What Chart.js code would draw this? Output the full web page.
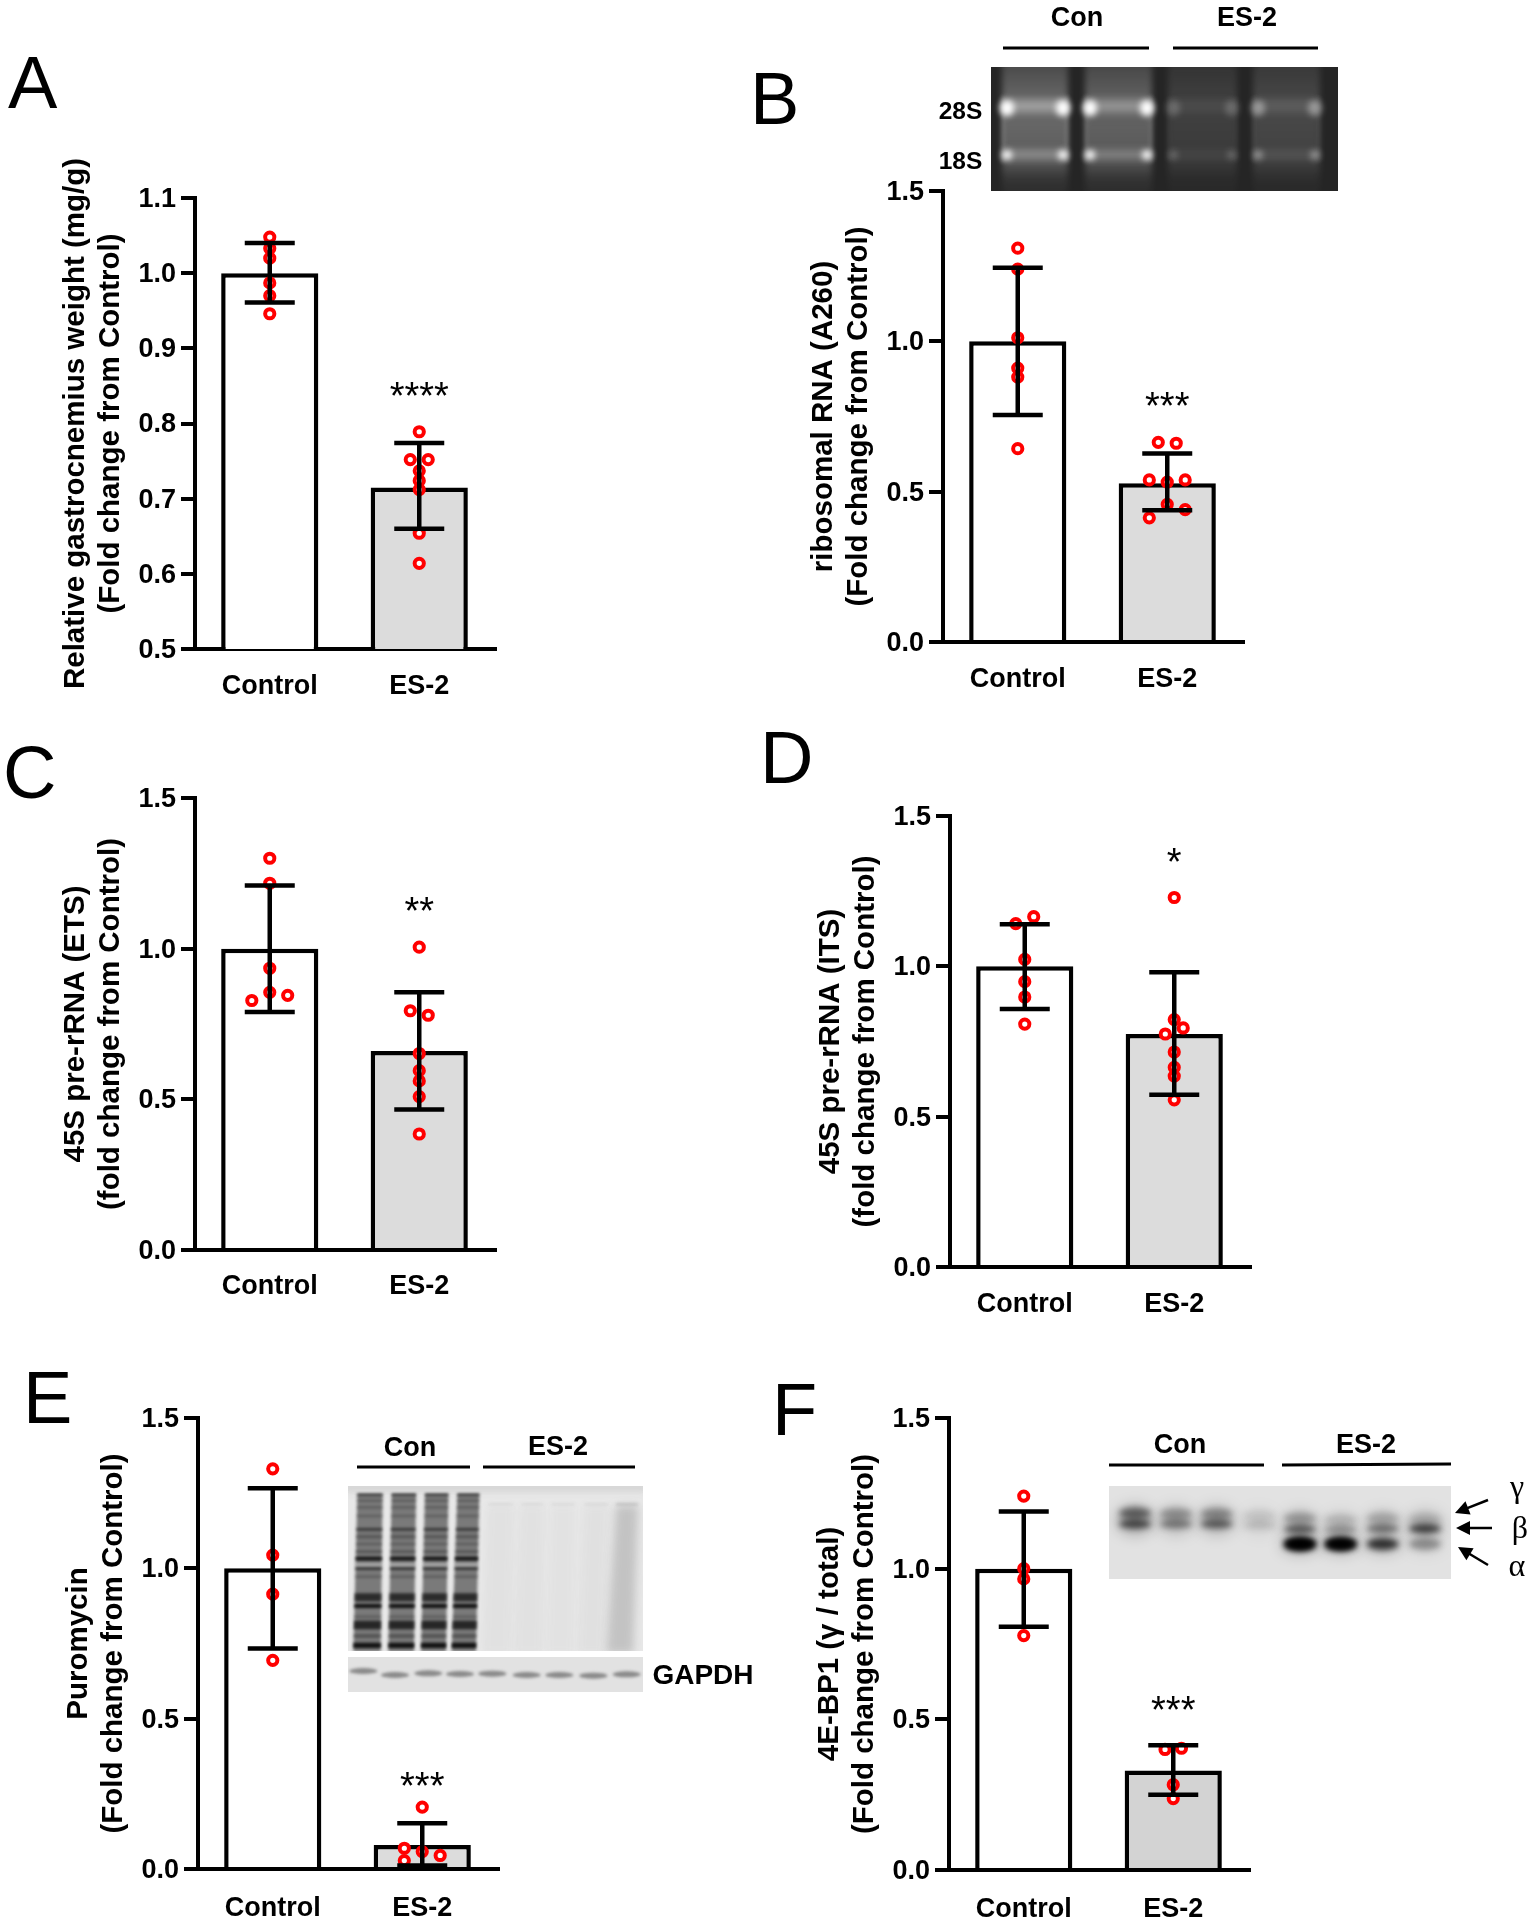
<!DOCTYPE html>
<html><head><meta charset="utf-8">
<script src="https://cdn.jsdelivr.net/npm/chart.js@4"></script>
<style>
html,body{margin:0;padding:0;background:#fff;}
#page{position:relative;width:1532px;height:1920px;overflow:hidden;background:#fff;font-family:"Liberation Sans",Arial,sans-serif;color:#000;}
canvas{position:absolute;}
.t{position:absolute;transform:translate(-50%,-50%);white-space:nowrap;font-weight:bold;font-size:27px;line-height:1;}
.letter{position:absolute;font-weight:normal;font-size:74px;line-height:1;}
.g{position:absolute;transform:translate(-50%,-50%);font-family:"Liberation Serif",serif;font-size:32px;line-height:1;}
</style></head><body><div id="page">
<canvas id="deco" width="1532" height="1920" style="left:0;top:0"></canvas>
</div>
<script>
const categories = ['Control', 'ES-2'];

const aTicks = ['0.5','0.6','0.7','0.8','0.9','1.0','1.1'];
const aMeans = [1.0, 0.715];
const aLow = [0.961, 0.660];
const aHigh = [1.040, 0.774];
const aControl = [1.048, 1.033, 1.020, 0.987, 0.970, 0.946];
const aControlJit = [0, 0, 0, 0, 0, 0];
const aES = [0.789, 0.752, 0.752, 0.737, 0.724, 0.712, 0.654, 0.614];
const aESJit = [0, -0.06, 0.06, 0, 0, 0, 0, 0];
const aStar = ['', '****'];
const aStarAt = [0, 0.843];
const aTitle = ['Relative gastrocnemius weight (mg/g)', '(Fold change from Control)'];

const bTicks = ['0.0','0.5','1.0','1.5'];
const bMeans = [1.0, 0.528];
const bLow = [0.755, 0.438];
const bHigh = [1.245, 0.627];
const bControl = [1.31, 1.24, 1.012, 0.911, 0.881, 0.643];
const bControlJit = [0, 0, 0, 0, 0, 0];
const bES = [0.664, 0.661, 0.539, 0.539, 0.532, 0.458, 0.44, 0.413];
const bESJit = [-0.06, 0.06, -0.12, 0.12, 0, 0, 0.12, -0.12];
const bStar = ['', '***'];
const bStarAt = [0, 0.80];
const bTitle = ['ribosomal RNA (A260)', '(Fold change from Control)'];

const cTicks = ['0.0','0.5','1.0','1.5'];
const cMeans = [1.0, 0.66];
const cLow = [0.79, 0.466];
const cHigh = [1.21, 0.855];
const cControl = [1.30, 1.217, 0.935, 0.855, 0.845, 0.828];
const cControlJit = [0, 0, 0, 0, 0.12, -0.12];
const cES = [1.005, 0.794, 0.779, 0.652, 0.595, 0.561, 0.509, 0.385];
const cESJit = [0, -0.06, 0.06, 0, 0, 0, 0, 0];
const cStar = ['', '**'];
const cStarAt = [0, 1.14];
const cTitle = ['45S pre-rRNA (ETS)', '(fold change from Control)'];

const dTicks = ['0.0','0.5','1.0','1.5'];
const dMeans = [1.0, 0.775];
const dLow = [0.858, 0.573];
const dHigh = [1.14, 0.98];
const dControl = [1.165, 1.142, 1.023, 0.949, 0.898, 0.808];
const dControlJit = [0.06, -0.06, 0, 0, 0, 0];
const dES = [1.229, 0.823, 0.795, 0.775, 0.715, 0.664, 0.635, 0.556];
const dESJit = [0, 0, 0.06, -0.06, 0, 0, 0, 0];
const dStar = ['', '*'];
const dStarAt = [0, 1.365];
const dTitle = ['45S pre-rRNA (ITS)', '(fold change from Control)'];

const eTicks = ['0.0','0.5','1.0','1.5'];
const eMeans = [1.0, 0.08];
const eLow = [0.733, 0.012];
const eHigh = [1.266, 0.152];
const eControl = [1.331, 1.044, 0.914, 0.694];
const eControlJit = [0, 0, 0, 0];
const eES = [0.206, 0.069, 0.058, 0.045, 0.028];
const eESJit = [0, -0.12, 0, 0.12, -0.12];
const eStar = ['', '***'];
const eStarAt = [0, 0.294];
const eTitle = ['Puromycin', '(Fold change from Control)'];

const fTicks = ['0.0','0.5','1.0','1.5'];
const fMeans = [1.0, 0.33];
const fLow = [0.807, 0.25];
const fHigh = [1.19, 0.414];
const fControl = [1.241, 1.0, 0.966, 0.778];
const fControlJit = [0, 0, 0, 0];
const fES = [0.404, 0.40, 0.283, 0.237];
const fESJit = [0.055, -0.055, 0, 0];
const fStar = ['', '***'];
const fStarAt = [0, 0.549];
const fTitle = ['4E-BP1 (\u03b3 / total)', '(Fold change from Control)'];

const FONT = '"Liberation Sans", Arial, sans-serif';
const page = document.getElementById('page');
const AXIS_W = 4, MARK_W = 4.5, STUB = 3;

const errPlugin = {
  id: 'errs',
  beforeDraw(chart) {
    const y = chart.scales.y;
    y.getLabelItems(chart.chartArea).forEach(it => { if (!it.$moved) { it.options.translation[1] += 1.5; it.$moved = true; } });
  },
  afterDatasetsDraw(chart, _a, o) {
    const {ctx, scales: {x, y}} = chart;
    ctx.save();
    ctx.strokeStyle = '#000';
    ctx.lineCap = 'butt';
    ctx.lineWidth = AXIS_W;
    ctx.beginPath();
    ctx.moveTo(x.right - 1, y.bottom); ctx.lineTo(x.right + STUB, y.bottom);
    ctx.stroke();
    ctx.lineWidth = MARK_W;
    o.low.forEach((lo, i) => {
      const px = x.getPixelForValue(i), a = y.getPixelForValue(lo), b = y.getPixelForValue(o.high[i]);
      ctx.beginPath();
      ctx.moveTo(px, a); ctx.lineTo(px, b);
      ctx.moveTo(px - 25, a); ctx.lineTo(px + 25, a);
      ctx.moveTo(px - 25, b); ctx.lineTo(px + 25, b);
      ctx.stroke();
    });
    ctx.fillStyle = '#000';
    ctx.font = '38px ' + FONT;
    ctx.textAlign = 'center';
    ctx.textBaseline = 'alphabetic';
    o.star.forEach((s, i) => {
      if (s) ctx.fillText(s, x.getPixelForValue(i), y.getPixelForValue(o.starAt[i]) + 18);
    });
    ctx.restore();
  }
};

function panel(g, d) {
  const LEFT = 180, TOP = 90, BOTTOM = 70, RIGHT = 6;
  const cv = document.createElement('canvas');
  const w = LEFT + (g.right - g.axis) + RIGHT, h = TOP + (g.bottom - g.top) + BOTTOM;
  cv.width = w; cv.height = h;
  cv.style.left = (g.axis - LEFT) + 'px';
  cv.style.top = (g.top - TOP) + 'px';
  page.appendChild(cv);
  const pts = (ys, js, c) => ys.map((v, i) => ({x: c + js[i], y: v}));
  const ring = {
    pointStyle: 'circle', pointRadius: 4.6, pointBorderWidth: 4,
    pointBorderColor: '#ff0000', pointBackgroundColor: '#ffffff',
    showLine: false, xAxisID: 'xp', yAxisID: 'y', order: 1, clip: false
  };
  new Chart(cv, {
    type: 'bar',
    data: {
      labels: categories,
      datasets: [
        {type: 'bar', data: d.means, backgroundColor: ['#ffffff', g.grey], borderColor: '#000',
         borderWidth: MARK_W, borderSkipped: 'bottom', barPercentage: 0.65, categoryPercentage: 1, grouped: false,
         xAxisID: 'x', yAxisID: 'y', order: 2},
        Object.assign({type: 'scatter', data: pts(d.control, d.controlJit, 0)}, ring),
        Object.assign({type: 'scatter', data: pts(d.es, d.esJit, 1)}, ring)
      ]
    },
    plugins: [errPlugin],
    options: {
      responsive: false, animation: false, devicePixelRatio: 1,
      layout: {autoPadding: false, padding: {left: 0, right: RIGHT, top: TOP, bottom: 0}},
      plugins: {legend: {display: false}, tooltip: {enabled: false},
        errs: {low: d.low, high: d.high, star: d.star, starAt: d.starAt}},
      scales: {
        x: {
          type: 'category', offset: true,
          border: {display: true, color: '#000', width: AXIS_W},
          grid: {display: false},
          ticks: {color: '#000', padding: g.labelPad, maxRotation: 0, font: {family: FONT, weight: 'bold', size: 27}},
          afterFit(s) { s.height = BOTTOM; }
        },
        xp: {type: 'linear', display: false, offset: false, min: -0.5, max: 1.5},
        y: {
          type: 'linear', min: +d.ticks[0], max: +d.ticks[d.ticks.length - 1],
          border: {display: true, color: '#000', width: AXIS_W},
          grid: {display: true, drawOnChartArea: false, drawTicks: true, tickLength: 14, color: '#000', lineWidth: AXIS_W},
          ticks: {color: '#000', padding: 5, autoSkip: false,
            callback: v => (+v).toFixed(1), font: {family: FONT, weight: 'bold', size: 27}},
          afterBuildTicks(s) { s.ticks = d.ticks.map(v => ({value: +v})); },
          title: {display: true, text: d.title, color: '#000', padding: {top: 43, bottom: 0},
            font: {family: FONT, weight: 'bold', size: 29.5, lineHeight: 1.19}},
          afterFit(s) { s.width = LEFT; }
        }
      }
    }
  });
}

panel({axis:195,right:494,top:198,bottom:649,grey:'#dcdcdc',labelPad:13},
  {ticks:aTicks,means:aMeans,low:aLow,high:aHigh,control:aControl,controlJit:aControlJit,es:aES,esJit:aESJit,star:aStar,starAt:aStarAt,title:aTitle});
panel({axis:943,right:1242,top:191,bottom:642,grey:'#dcdcdc',labelPad:13},
  {ticks:bTicks,means:bMeans,low:bLow,high:bHigh,control:bControl,controlJit:bControlJit,es:bES,esJit:bESJit,star:bStar,starAt:bStarAt,title:bTitle});
panel({axis:195,right:494,top:798,bottom:1250,grey:'#dcdcdc',labelPad:12},
  {ticks:cTicks,means:cMeans,low:cLow,high:cHigh,control:cControl,controlJit:cControlJit,es:cES,esJit:cESJit,star:cStar,starAt:cStarAt,title:cTitle});
panel({axis:950,right:1249,top:816,bottom:1267,grey:'#dcdcdc',labelPad:13},
  {ticks:dTicks,means:dMeans,low:dLow,high:dHigh,control:dControl,controlJit:dControlJit,es:dES,esJit:dESJit,star:dStar,starAt:dStarAt,title:dTitle});
panel({axis:198,right:497,top:1418,bottom:1869,grey:'#dcdcdc',labelPad:15},
  {ticks:eTicks,means:eMeans,low:eLow,high:eHigh,control:eControl,controlJit:eControlJit,es:eES,esJit:eESJit,star:eStar,starAt:eStarAt,title:eTitle});
panel({axis:949,right:1248,top:1418,bottom:1870,grey:'#d3d3d3',labelPad:15},
  {ticks:fTicks,means:fMeans,low:fLow,high:fHigh,control:fControl,controlJit:fControlJit,es:fES,esJit:fESJit,star:fStar,starAt:fStarAt,title:fTitle});

function text(cls, s, x, y, extra) {
  const el = document.createElement('div');
  el.className = cls; el.textContent = s;
  el.style.left = x + 'px'; el.style.top = y + 'px';
  if (extra) Object.assign(el.style, extra);
  page.appendChild(el);
}
[['A',8,113],['B',750,129],['C',3,803],['D',760,788],['E',23,1428],['F',772,1440]].forEach(([s,x,b]) => {
  text('letter', s, x, b - 74 * 0.905);
});
[['Con',1077,17],['ES-2',1247,17],['Con',410,1447],['ES-2',558,1446],['Con',1180,1444],['ES-2',1366,1444]]
  .forEach(([s,x,y]) => text('t', s, x, y));
text('t', '28S', 960.5, 110.5, {fontSize:'24.5px'});
text('t', '18S', 960.5, 161, {fontSize:'24.5px'});
text('t', 'GAPDH', 703, 1675, {fontSize:'28px'});
text('g', '\u03b3', 1517, 1486);
text('g', '\u03b2', 1520, 1527);
text('g', '\u03b1', 1517, 1565);

/* ---------- decorative gel / blot images and rules ---------- */
const dc = document.getElementById('deco').getContext('2d');
function rule(x0,y0,x1,y1,w){dc.strokeStyle='#000';dc.lineWidth=w||3;dc.beginPath();dc.moveTo(x0,y0);dc.lineTo(x1,y1);dc.stroke();}
rule(1003,48,1149,48);rule(1173,48,1318,48);
rule(357,1467,470,1467);rule(483,1467,635,1467);
rule(1109,1465,1264,1465);rule(1282,1465,1451,1464);
function arrow(x0,y0,x1,y1){
  const a=Math.atan2(y1-y0,x1-x0),L=14,W=7;
  rule(x0,y0,x1-Math.cos(a)*L*0.8,y1-Math.sin(a)*L*0.8,2.5);
  dc.fillStyle='#000';dc.beginPath();dc.moveTo(x1,y1);
  dc.lineTo(x1-L*Math.cos(a)+W*Math.sin(a),y1-L*Math.sin(a)-W*Math.cos(a));
  dc.lineTo(x1-L*Math.cos(a)-W*Math.sin(a),y1-L*Math.sin(a)+W*Math.cos(a));
  dc.closePath();dc.fill();
}
arrow(1488,1500,1455,1513);arrow(1492,1528,1456,1528);arrow(1488,1565,1458,1547);

/* gel in panel B */
(function(){
  const X=991,Y=67,W=347,H=124;
  dc.save();dc.beginPath();dc.rect(X,Y,W,H);dc.clip();
  dc.fillStyle='#252525';dc.fillRect(X,Y,W,H);
  const lanes=[[1002,1068,1],[1085,1152,.85],[1168,1237,.16],[1253,1320,.32]];
  const grad=dc.createLinearGradient(0,Y,0,Y+H);
  grad.addColorStop(0,'rgba(255,255,255,0.18)');grad.addColorStop(.3,'rgba(255,255,255,0.32)');
  grad.addColorStop(.75,'rgba(255,255,255,0.26)');grad.addColorStop(.9,'rgba(255,255,255,0.08)');grad.addColorStop(1,'rgba(255,255,255,0.04)');
  lanes.forEach(([a,b,k])=>{
    dc.filter='blur(3px)';
    dc.globalAlpha=k*0.75+0.28;dc.fillStyle=grad;dc.fillRect(a,Y-6,b-a,H+12);
    dc.filter='blur(4px)';
    dc.globalAlpha=k*0.38;dc.fillStyle='#fff';
    dc.fillRect(a+2,100,b-a-4,12);dc.fillRect(a+2,151,b-a-4,7);
    dc.filter='blur(2px)';
    dc.globalAlpha=k*0.3;dc.fillRect(a,96,2.5,66);dc.fillRect(b-2.5,96,2.5,66);
    dc.filter='blur(3px)';dc.globalAlpha=Math.min(1,k*1.2);
    [[a+5,108,7,8],[b-5,108,7,8],[a+5,155,5,5],[b-5,155,5,5]].forEach(([cx,cy,rx,ry])=>{
      dc.beginPath();dc.ellipse(cx,cy,rx,ry,0,0,7);dc.fill();});
  });
  dc.restore();dc.filter='none';dc.globalAlpha=1;
})();

/* total protein blot in panel E */
(function(){
  const zx=x=>340+x/3, zy=y=>1470+y/3;
  const X=348,Y=1486,W=295,H=165;
  dc.save();dc.beginPath();dc.rect(X,Y,W,H);dc.clip();
  dc.fillStyle='#e8e8e8';dc.fillRect(X,Y,W,H);
  dc.filter='blur(3px)';dc.fillStyle='#d5d5d5';dc.fillRect(X-4,Y-4,W+8,10);
  const top=72,bot=545;
  const lx=(l,y,s)=>{const t=(y-top)/(bot-top);return zx(l[s]+(l[s+2]-l[s])*t);};
  const con=[[52,128,40,122],[155,228,145,222],[255,325,243,318],[352,418,335,408]];
  const es=[[445,520,430,510,.05],[545,610,525,605,.05],[635,705,620,700,.04],[735,805,715,790,.06],[830,895,800,880,.28]];
  const band=(l,y,h,col,a)=>{
    const y0=y-h/2,y1=y+h/2;dc.globalAlpha=a;dc.fillStyle=col;dc.beginPath();
    dc.moveTo(lx(l,y0,0),zy(y0));dc.lineTo(lx(l,y0,1),zy(y0));dc.lineTo(lx(l,y1,1),zy(y1));dc.lineTo(lx(l,y1,0),zy(y1));dc.closePath();dc.fill();};
  const bands=[[74,5,.95],[92,7,.3],[112,7,.3],[138,8,.25],[178,8,.65],[200,12,.3],[222,7,.3],[245,7,.45],[266,11,1],[296,7,.8],[320,7,.3],[382,24,.75],[408,12,1],[440,6,.35],[465,26,.8],[498,10,.4],[526,16,1]];
  dc.filter='blur(1.6px)';
  con.forEach(l=>{
    band(l,(top+bot)/2,bot-top,'#666',.85);
    bands.forEach(([y,h,a])=>band(l,y,h,'#111',a));
    band(l,284,8,'#ddd',.55);
  });
  dc.filter='blur(4px)';
  es.forEach(l=>{
    band(l,(top+bot)/2+20,bot-top-30,'#666',l[4]);
  });
  dc.filter='blur(1.5px)';
  es.forEach(l=>band(l,103,3,'#333',l[4]+.1));
  dc.filter='none';dc.globalAlpha=1;dc.restore();
  /* loading control strip */
  const Y2=1657,H2=35;
  dc.save();dc.beginPath();dc.rect(X,Y2,W,H2);dc.clip();
  dc.fillStyle='#e2e2e2';dc.fillRect(X,Y2,W,H2);
  dc.filter='blur(1.5px)';dc.fillStyle='#7a7a7a';dc.globalAlpha=.85;
  [[70,603],[165,615],[265,610],[360,612],[457,611],[560,615],[658,615],[760,617],[860,613]].forEach(([x,y])=>{
    dc.beginPath();dc.ellipse(zx(x),zy(y),14,3,0,0,7);dc.fill();});
  dc.filter='none';dc.globalAlpha=1;dc.restore();
})();

/* 4E-BP1 blot in panel F */
(function(){
  const zx=x=>1100+x/3, zy=y=>1470+y/3;
  const X=1109,Y=1486,W=342,H=93;
  dc.save();dc.beginPath();dc.rect(X,Y,W,H);dc.clip();
  dc.fillStyle='#e2e2e2';dc.fillRect(X,Y,W,H);
  const lanes=[[105,130,162,0,.5,.65,0],[228,132,162,0,.3,.42,0],[350,132,162,0,.33,.55,0],[478,138,166,0,.1,.14,0],
    [600,145,178,222,.25,.55,1],[722,150,180,222,.15,.3,.95],[848,145,176,222,.2,.45,.75],[975,148,176,222,.15,.7,.32]];
  lanes.forEach(([x,gy,by,ay,g,b,a])=>{
    dc.filter='blur(7px)';dc.fillStyle='#000';
    dc.globalAlpha=(g+b)*0.2;dc.beginPath();dc.ellipse(zx(x),zy((gy+by)/2+5),19,15,0,0,7);dc.fill();
    if(a){dc.globalAlpha=a*.25;dc.beginPath();dc.ellipse(zx(x),zy(ay+3),19,9,0,0,7);dc.fill();}
    dc.filter='blur(3px)';
    [[gy,g,6],[by,b,4.5],[ay,a,6]].forEach(([y,k,ry])=>{
      if(!k)return;dc.globalAlpha=k;dc.beginPath();dc.ellipse(zx(x),zy(y),16,ry,0,0,7);dc.fill();
      if(k>.9){dc.beginPath();dc.ellipse(zx(x),zy(y),15,ry,0,0,7);dc.fill();}
    });
  });
  dc.filter='none';dc.globalAlpha=1;dc.restore();
})();
</script></body></html>
